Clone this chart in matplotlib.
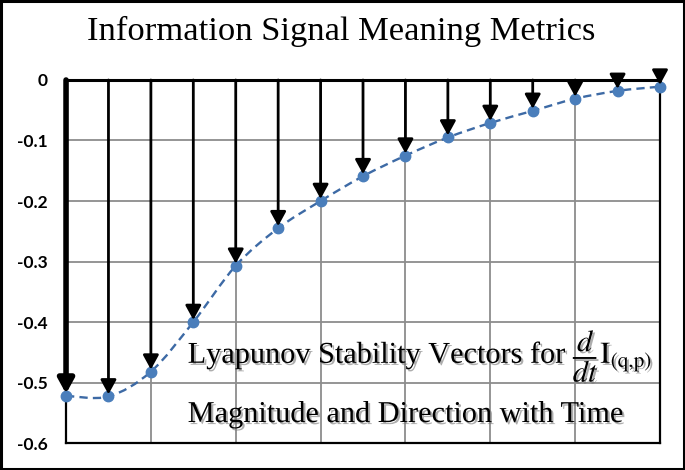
import numpy as np
import matplotlib
matplotlib.use("Agg")
import matplotlib.pyplot as plt
import matplotlib.patheffects as pe
from matplotlib.path import Path
from matplotlib.patches import PathPatch, Rectangle

plt.rcParams['mathtext.fontset'] = 'stix'

# data
t = list(range(15))
values = [-0.522, -0.523, -0.482, -0.400, -0.307, -0.245, -0.200, -0.159,
          -0.125, -0.095, -0.071, -0.051, -0.031, -0.018, -0.011]
y_ticks = [0, -0.1, -0.2, -0.3, -0.4, -0.5, -0.6]
y_tick_labels = ["0", "-0.1", "-0.2", "-0.3", "-0.4", "-0.5", "-0.6"]

title = "Information Signal Meaning Metrics"
line1 = r"Lyapunov Stability Vectors for $\dfrac{d}{dt}\mathrm{I}_{\mathrm{(q{,}p)}}$"
line2 = "Magnitude and Direction with Time"

fig = plt.figure(figsize=(6.85, 4.70), dpi=100)
ax = fig.add_axes([0.0964, 0.0574, 0.8671, 0.7724])

ax.set_xlim(0, 14)
ax.set_ylim(-0.6, 0)
ax.set_xticks(range(0, 15, 2))
ax.set_yticks(y_ticks)
ax.set_yticklabels(y_tick_labels, fontfamily='Lato', fontweight='bold', fontsize=12.5)
ax.tick_params(axis='x', length=0, labelbottom=False)
ax.tick_params(axis='y', length=0, pad=13)
ax.grid(True, color='#8c8c8c', lw=1.3)
ax.set_axisbelow(True)
for s in ax.spines.values():
    s.set_color('black')
    s.set_linewidth(1.6)
ax.spines['top'].set_linewidth(2.2)

# smoothed dashed line (Excel-style smoothing through the points)
x = np.array(t, dtype=float)
y = np.array(values)
pts = np.column_stack([x, y])
ext = np.vstack([pts[0], pts, pts[-1]])
verts = [tuple(pts[0])]
codes = [Path.MOVETO]
for i in range(len(pts) - 1):
    p0, p1, p2, p3 = ext[i], ext[i + 1], ext[i + 2], ext[i + 3]
    c1 = p1 + (p2 - p0) / 6
    c2 = p2 - (p3 - p1) / 6
    verts += [tuple(c1), tuple(c2), tuple(p2)]
    codes += [Path.CURVE4] * 3
curve = PathPatch(Path(verts, codes), fill=False, edgecolor='#3d6aa5',
                  lw=1.7, linestyle=(0, (3.5, 2.2)), zorder=3)
ax.add_patch(curve)
ax.plot(t, values, 'o', color='#4a7ebb', ms=7.5, zorder=4, clip_on=False)

# vectors from 0 down to each point
for i, (xi, yi) in enumerate(zip(t, values)):
    ax.annotate('', xy=(xi, yi), xytext=(xi, 0),
                arrowprops=dict(arrowstyle='-|>,head_length=0.43,head_width=0.235',
                                mutation_scale=20, color='black',
                                lw=4.0 if i == 0 else 2.0,
                                shrinkA=0, shrinkB=1.5),
                annotation_clip=False, zorder=5)

fig.text(0.498, 0.932, title, ha='center', va='center',
         fontfamily='Liberation Serif', fontsize=24.8)

shadow = [pe.withSimplePatchShadow(offset=(1.5, -1.5), shadow_rgbFace='#777777', alpha=0.6)]
fig.text(0.274, 0.2277, line1, ha='left', va='baseline',
         fontfamily='Liberation Serif', fontsize=21.8, path_effects=shadow, zorder=6)
fig.text(0.274, 0.1021, line2, ha='left', va='baseline',
         fontfamily='Liberation Serif', fontsize=21.8, path_effects=shadow, zorder=6)

fig.patches.append(Rectangle((0.002, 0.003), 0.996, 0.994, transform=fig.transFigure,
                             fill=False, edgecolor='black', lw=2.2))

fig.savefig("out.png", dpi=100)
